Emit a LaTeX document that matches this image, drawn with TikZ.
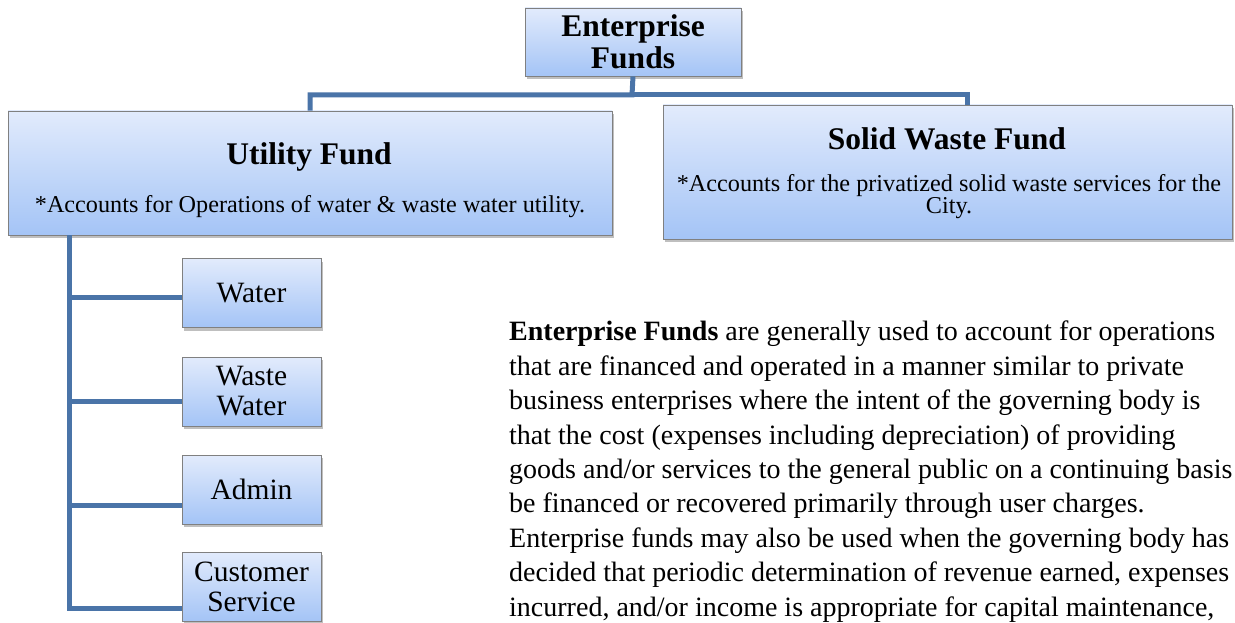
\documentclass[tikz,border=0pt]{standalone}
\usepackage{fontspec}
\setmainfont{Liberation Serif}
\usetikzlibrary{shadows}
\definecolor{linkblue}{RGB}{74,116,168}
\definecolor{boxtop}{RGB}{226,235,252}
\definecolor{boxbot}{RGB}{164,196,246}
\definecolor{boxedge}{RGB}{128,128,128}
\tikzset{
  fundbox/.style={draw=boxedge, line width=0.8pt, top color=boxtop, bottom color=boxbot,
    align=center, inner sep=2pt,
    drop shadow={shadow xshift=1.5pt, shadow yshift=-3pt, fill=black, opacity=0.25}},
  link/.style={draw=linkblue, line width=5pt},
  titlefont/.style={font=\fontsize{31.5}{32}\selectfont\bfseries},
  subfont/.style={font=\fontsize{24.2}{22}\selectfont},
  smallfont/.style={font=\fontsize{29.5}{30}\selectfont},
  label/.style={inner sep=0pt, align=center},
}
\begin{document}
\begin{tikzpicture}[x=1pt,y=-1pt]
\useasboundingbox (0,0) rectangle (1235,623);
\fill[white] (0,0) rectangle (1235,623);

% boxes
\node[fundbox, titlefont, minimum width=216pt, minimum height=68pt] (ent) at (633,42) {Enterprise\\Funds};
\node[fundbox, minimum width=604pt, minimum height=124pt] (util) at (310,173) {};
\node[fundbox, minimum width=569pt, minimum height=134pt] (solid) at (947.5,172) {};

\node[label, titlefont, anchor=base] (utilt) at (309,165) {Utility Fund};
\node[label, subfont, anchor=base] (utils) at (310,212) {*Accounts for Operations of water \& waste water utility.};
\node[label, titlefont, anchor=base] (solidt) at (947,150) {Solid Waste Fund};
\node[label, subfont, anchor=base] (solids1) at (949,192) {*Accounts for the privatized solid waste services for the};
\node[label, subfont, anchor=base] (solids2) at (949,214) {City.};

\node[fundbox, smallfont, minimum width=139pt, minimum height=69pt] (water) at (251.5,293) {Water};
\node[fundbox, smallfont, minimum width=139pt, minimum height=69pt] (wwater) at (251.5,391.5) {Waste\\Water};
\node[fundbox, smallfont, minimum width=139pt, minimum height=69pt] (admin) at (251.5,489.5) {Admin};
\node[fundbox, smallfont, minimum width=139pt, minimum height=69pt] (cust) at (251.5,586.5) {Customer\\Service};

% connectors
\coordinate (j) at (632,95);
\coordinate (vt) at (69,235);
\draw[link] (ent.south) -- (j) -| (util.north);
\draw[link] (j) -| ([xshift=19.5pt]solid.north);
\draw[link] (vt) |- ([yshift=-4pt]water.west);
\draw[link] (vt) |- ([yshift=-10pt]wwater.west);
\draw[link] (vt) |- ([yshift=-15.5pt]admin.west);
\draw[link] (vt) |- ([yshift=-21.5pt]cust.west);

% paragraph
\node[anchor=north west, inner sep=0pt, align=left, font=\fontsize{28}{34.4}\selectfont] (para) at (509,321)
{\textbf{Enterprise Funds} are generally used to account for operations\\
that are financed and operated in a manner similar to private\\
business enterprises where the intent of the governing body is\\
that the cost (expenses including depreciation) of providing\\
goods and/or services to the general public on a continuing basis\\
be financed or recovered primarily through user charges.\\
Enterprise funds may also be used when the governing body has\\
decided that periodic determination of revenue earned, expenses\\
incurred, and/or income is appropriate for capital maintenance,};
\end{tikzpicture}
\end{document}
